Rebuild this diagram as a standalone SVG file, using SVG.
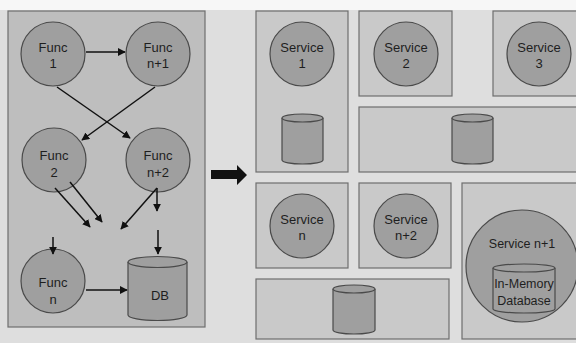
<svg xmlns="http://www.w3.org/2000/svg" width="576" height="343" viewBox="0 0 576 343">
<defs>
<style>
.panel{fill:#bebebe;stroke:#6e6e6e;stroke-width:1.2}
.box{fill:#c9c9c9;stroke:#6e6e6e;stroke-width:1.2}
.node{fill:#9f9f9f;stroke:#4a4a4a;stroke-width:1.2}
.cyl{fill:#9f9f9f;stroke:#4a4a4a;stroke-width:1.2}
.t{font-family:"Liberation Sans",Arial,sans-serif;font-size:13px;fill:#1e1e1e;text-anchor:middle}
.s{font-size:12.5px}
.e{stroke:#111;stroke-width:1.5;fill:none;marker-end:url(#ah)}
</style>
<marker id="ah" viewBox="0 0 10 10" refX="9" refY="5" markerWidth="8" markerHeight="8" markerUnits="userSpaceOnUse" orient="auto">
<path d="M0,0 L10,5 L0,10 z" fill="#111"/>
</marker>
</defs>
<rect x="0" y="0" width="576" height="343" fill="#dedede"/>
<rect x="0" y="0" width="576" height="10" fill="#f7f7f7"/>

<g id="left-panel">
<rect class="panel" x="8" y="11" width="197" height="316"/>
</g>

<g id="func1"><circle class="node" cx="53" cy="54" r="32"/><text class="t" x="53" y="52">Func</text><text class="t" x="53" y="68">1</text></g>
<g id="funcn1"><circle class="node" cx="158" cy="54" r="32"/><text class="t" x="158" y="52">Func</text><text class="t" x="158" y="68">n+1</text></g>
<g id="func2"><circle class="node" cx="54" cy="160" r="32"/><text class="t" x="54" y="160">Func</text><text class="t" x="54" y="177">2</text></g>
<g id="funcn2"><circle class="node" cx="158" cy="160" r="32"/><text class="t" x="158" y="160">Func</text><text class="t" x="158" y="177">n+2</text></g>
<g id="funcn"><circle class="node" cx="53" cy="281" r="32"/><text class="t" x="53" y="287">Func</text><text class="t" x="53" y="304">n</text></g>
<g id="db">
<path class="cyl" d="M128,262 L128,315 A29.5,5.5 0 0 0 187,315 L187,262"/>
<ellipse class="cyl" cx="157.5" cy="262" rx="29.5" ry="5.5"/>
<text class="t" x="160" y="300">DB</text>
</g>

<g id="connectors">
<line class="e" x1="86" y1="52" x2="125" y2="52"/>
<line class="e" x1="57" y1="87" x2="130" y2="138"/>
<line class="e" x1="155" y1="87" x2="82" y2="140"/>
<line class="e" x1="55" y1="188" x2="90" y2="227"/>
<line class="e" x1="70" y1="182" x2="102" y2="222"/>
<line class="e" x1="157" y1="188" x2="121" y2="229"/>
<line class="e" x1="157" y1="188" x2="157" y2="211"/>
<line class="e" x1="53" y1="237" x2="53" y2="254"/>
<line class="e" x1="158" y1="230" x2="158" y2="254"/>
<line class="e" x1="86" y1="290" x2="127" y2="290"/>
<path d="M211,170 L237,170 L237,165 L247,175 L237,185 L237,179 L211,179 Z" fill="#111"/>
</g>

<g id="box-s1"><rect class="box" x="256" y="11" width="92" height="161"/></g>
<g id="service1"><circle class="node" cx="302" cy="54" r="32"/><text class="t" x="302" y="52">Service</text><text class="t" x="302" y="68">1</text></g>
<g id="db-s1">
<path class="cyl" d="M282,118 L282,160 A20.5,4 0 0 0 323,160 L323,118"/>
<ellipse class="cyl" cx="302.5" cy="118" rx="20.5" ry="4"/>
</g>

<g id="box-s2"><rect class="box" x="359" y="11" width="93" height="85"/></g>
<g id="service2"><circle class="node" cx="406" cy="54" r="32"/><text class="t" x="406" y="52">Service</text><text class="t" x="406" y="68">2</text></g>

<g id="box-s3"><rect class="box" x="493" y="11" width="90" height="85"/></g>
<g id="service3"><circle class="node" cx="539" cy="54" r="32"/><text class="t" x="539" y="52">Service</text><text class="t" x="539" y="68">3</text></g>

<g id="box-shared"><rect class="box" x="359" y="107" width="224" height="65"/></g>
<g id="db-shared">
<path class="cyl" d="M452,118 L452,160 A20.5,4 0 0 0 493,160 L493,118"/>
<ellipse class="cyl" cx="472.5" cy="118" rx="20.5" ry="4"/>
</g>

<g id="box-sn"><rect class="box" x="256" y="183" width="92" height="85"/></g>
<g id="servicen"><circle class="node" cx="302" cy="226" r="32"/><text class="t" x="302" y="224">Service</text><text class="t" x="302" y="240">n</text></g>

<g id="box-sn2"><rect class="box" x="359" y="183" width="92" height="85"/></g>
<g id="servicen2"><circle class="node" cx="406" cy="226" r="32"/><text class="t" x="406" y="224">Service</text><text class="t" x="406" y="240">n+2</text></g>

<g id="box-bottom"><rect class="box" x="256" y="279" width="193" height="60"/></g>
<g id="db-bottom">
<path class="cyl" d="M333,289 L333,330 A21,4 0 0 0 375,330 L375,289"/>
<ellipse class="cyl" cx="354" cy="289" rx="21" ry="4"/>
</g>

<g id="box-sn1"><rect class="box" x="462" y="183" width="121" height="156"/></g>
<g id="servicen1">
<circle class="node" cx="522" cy="266" r="56"/>
<text class="t s" x="522" y="248">Service n+1</text>
<path class="cyl" d="M493,268 L493,309 A31,4 0 0 0 555,309 L555,268"/>
<ellipse class="cyl" cx="524" cy="268" rx="31" ry="4"/>
<text class="t s" x="524" y="288">In-Memory</text>
<text class="t s" x="524" y="305">Database</text>
</g>
</svg>
